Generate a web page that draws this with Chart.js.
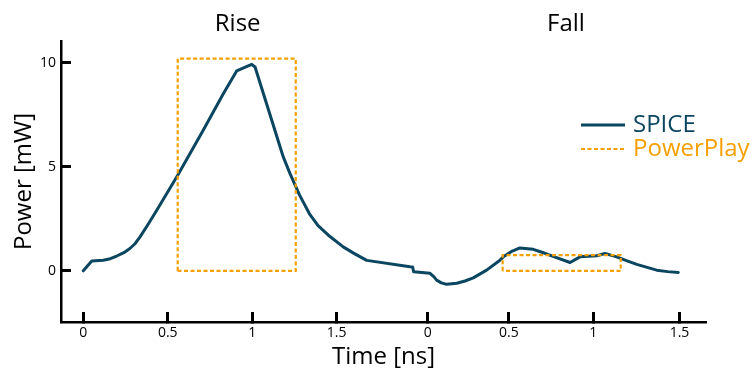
<!DOCTYPE html>
<html><head><meta charset="utf-8">
<script src="https://cdn.jsdelivr.net/npm/chart.js@4"></script>
<style>html,body{margin:0;padding:0;background:#fff;}#wrap{width:752px;height:369px;position:relative;}</style>
</head><body><div id="wrap"><canvas id="c"></canvas></div>
<script>
// Combined time axis: rise panel starts at 0, fall panel's own 0 sits at 2.04
const spiceTime = [0, 0.05, 0.118, 0.16, 0.198, 0.24, 0.276, 0.306, 0.336, 0.385, 0.435, 0.559, 0.710, 0.829, 0.908, 0.997, 1.017, 1.184, 1.224, 1.28, 1.338, 1.39, 1.451, 1.539, 1.60, 1.678, 1.934, 1.950, 1.956, 2.053, 2.075, 2.092, 2.12, 2.152, 2.211, 2.26, 2.309, 2.388, 2.467, 2.487, 2.54, 2.585, 2.664, 2.72, 2.773, 2.882, 2.941, 3.040, 3.089, 3.158, 3.22, 3.277, 3.395, 3.46, 3.523];
const spicePower = [0, 0.47, 0.51, 0.58, 0.71, 0.87, 1.07, 1.30, 1.63, 2.25, 2.91, 4.59, 6.75, 8.51, 9.60, 9.92, 9.79, 5.47, 4.67, 3.65, 2.75, 2.17, 1.71, 1.15, 0.85, 0.50, 0.19, 0.18, -0.05, -0.12, -0.28, -0.45, -0.58, -0.65, -0.60, -0.49, -0.34, 0.03, 0.51, 0.67, 0.95, 1.10, 1.03, 0.88, 0.72, 0.40, 0.67, 0.72, 0.83, 0.67, 0.48, 0.31, 0.03, -0.04, -0.08];
const powerPlayTime = [0.559, 0.559, 1.258, 1.258, 0.559, null, 2.483, 2.483, 3.182, 3.182, 2.483];
const powerPlayPower = [0, 10.19, 10.19, 0, 0, null, 0, 0.75, 0.75, 0, 0];
const xTickValues = [0, 0.5, 1, 1.5, 2.04, 2.52, 3.02, 3.53];
const xTickLabels = ['0', '0.5', '1', '1.5', '0', '0.5', '1', '1.5'];
const yTickValues = [0, 5, 10];
const panelTitles = ['Rise', 'Fall'];
const seriesNames = ['SPICE', 'PowerPlay'];

const toPts = (xs, ys) => xs.map((x, i) => ({x: x === null ? NaN : x, y: ys[i]}));

Chart.defaults.font.family = '"Open Sans", sans-serif';
Chart.defaults.color = '#000';

const decor = {
  id: 'decor',
  afterDraw(chart) {
    const ctx = chart.ctx, xs = chart.scales.x;
    ctx.save();
    ctx.font = '24px "Open Sans"';
    ctx.fillStyle = '#000';
    ctx.textAlign = 'center';
    ctx.textBaseline = 'middle';
    const centers = [0.914, 2.858];
    panelTitles.forEach((t, i) => ctx.fillText(t, xs.getPixelForValue(centers[i]), 24));
    chart.data.datasets.forEach((ds, i) => {
      const y = 125 + i * 24;
      ctx.strokeStyle = ds.borderColor;
      ctx.lineWidth = ds.borderWidth;
      ctx.setLineDash(ds.borderDash || []);
      ctx.beginPath(); ctx.moveTo(581, y); ctx.lineTo(625, y); ctx.stroke();
      ctx.setLineDash([]);
      ctx.fillStyle = ds.borderColor;
      ctx.textAlign = 'left';
      ctx.fillText(ds.label, 633, y);
    });
    ctx.restore();
  }
};

new Chart(document.getElementById('c'), {
  type: 'scatter',
  data: {
    datasets: [
      {label: seriesNames[0], data: toPts(spiceTime, spicePower), showLine: true, borderColor: '#0b4661', borderWidth: 3, pointRadius: 0, tension: 0, borderJoinStyle: 'round', borderCapStyle: 'round', order: 1},
      {label: seriesNames[1], data: toPts(powerPlayTime, powerPlayPower), showLine: true, spanGaps: false, borderColor: '#f5a000', borderWidth: 2.2, borderDash: [4, 2.5], pointRadius: 0, order: 0}
    ]
  },
  options: {
    responsive: true, maintainAspectRatio: false, animation: false,
    layout: {padding: {top: 41, right: 46, bottom: 0, left: 0}},
    plugins: {legend: {display: false}, tooltip: {enabled: false}},
    scales: {
      x: {
        type: 'linear', min: -0.132, max: 3.687,
        afterBuildTicks: s => { s.ticks = xTickValues.map(v => ({value: v})); },
        afterFit: s => { s.height = 47; },
        ticks: {callback: (v, i) => xTickLabels[i], font: {size: 14}, color: '#000', padding: 13, maxRotation: 0, autoSkip: false},
        grid: {drawOnChartArea: false, tickLength: -10, tickWidth: 3, color: '#000'},
        border: {color: '#000', width: 2.5},
        title: {display: true, text: 'Time [ns]', font: {size: 24, lineHeight: 1}, color: '#000', padding: {top: 0, bottom: 0}}
      },
      y: {
        type: 'linear', min: -2.46, max: 11.04,
        afterBuildTicks: s => { s.ticks = yTickValues.map(v => ({value: v})); },
        afterFit: s => { s.width = 61; },
        ticks: {font: {size: 14}, color: '#000', padding: 15},
        grid: {drawOnChartArea: false, tickLength: -10, tickWidth: 3, color: '#000'},
        border: {color: '#000', width: 2.5},
        title: {display: true, text: 'Power [mW]', font: {size: 24}, color: '#000', padding: {top: 9.6, bottom: 0}}
      }
    }
  },
  plugins: [decor]
});
</script></body></html>
